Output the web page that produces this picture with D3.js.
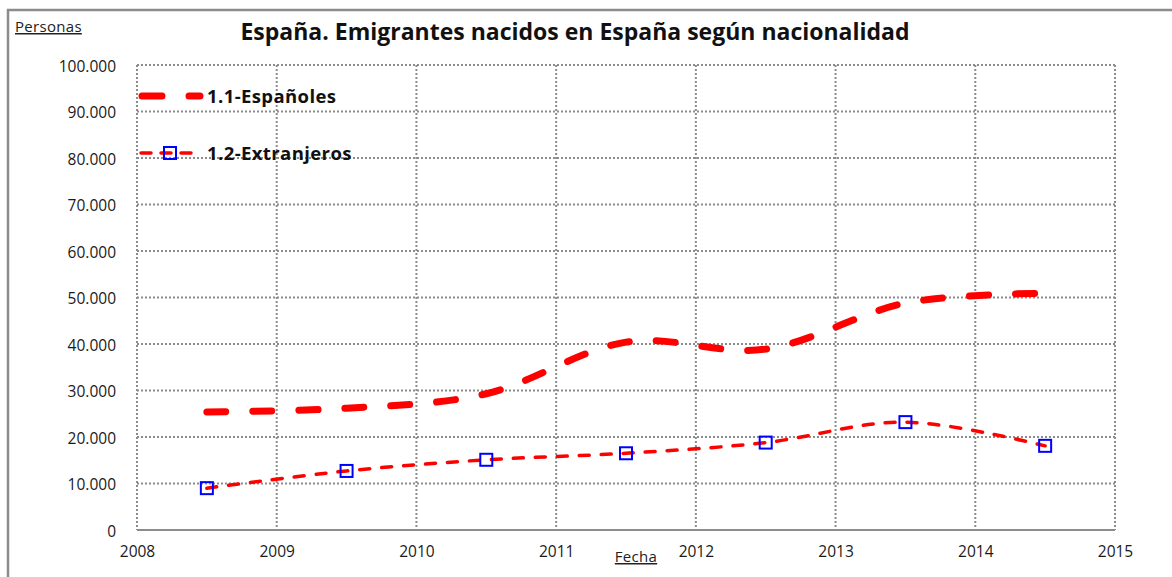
<!DOCTYPE html>
<html>
<head>
<meta charset="utf-8">
<script src="https://cdn.jsdelivr.net/npm/d3@7"></script>
<style>
  body { margin: 0; background: #fff; }
  svg { display: block; font-family: 'Open Sans', sans-serif; }
</style>
</head>
<body>
<div id="chart"></div>
<script>
// Data (mid-year points)
const periods = [2008.5, 2009.5, 2010.5, 2011.5, 2012.5, 2013.5, 2014.5];
const espanoles = [25400, 26200, 29300, 40400, 38900, 48800, 50900];
const extranjeros = [9000, 12700, 15100, 16500, 18800, 23200, 18100];
const yearTicks = [2008, 2009, 2010, 2011, 2012, 2013, 2014, 2015];
const valueTicks = [0, 10000, 20000, 30000, 40000, 50000, 60000, 70000, 80000, 90000, 100000];
const seriesNames = ['1.1-Españoles', '1.2-Extranjeros'];

const width = 1172;
const height = 577;
const plot = { left: 137, right: 1115, top: 65, bottom: 530 };
const font = "'Open Sans', sans-serif";

const svg = d3.select('#chart')
  .append('svg')
  .attr('width', width)
  .attr('height', height);

// outer frame (cut off at right and bottom like the reference)
svg.append('rect')
  .attr('x', 8).attr('y', 10)
  .attr('width', 1200).attr('height', 600)
  .style('fill', 'none')
  .style('stroke', '#8c8c8c')
  .style('stroke-width', 2.5);

const x = d3.scaleLinear().domain([2008, 2015]).range([plot.left, plot.right]);
const y = d3.scaleLinear().domain([0, 100000]).range([plot.bottom, plot.top]);

const locale = d3.formatLocale({ decimal: ',', thousands: '.', grouping: [3], currency: ['', '€'] });
const fmt = locale.format(',d');

// grid
const grid = svg.append('g').attr('class', 'grid');
grid.selectAll('line.h')
  .data(valueTicks.filter(v => v > 0))
  .enter().append('line')
  .attr('class', 'h')
  .attr('x1', plot.left).attr('x2', plot.right)
  .attr('y1', d => y(d)).attr('y2', d => y(d));
grid.selectAll('line.v')
  .data(yearTicks)
  .enter().append('line')
  .attr('class', 'v')
  .attr('x1', d => x(d)).attr('x2', d => x(d))
  .attr('y1', plot.top).attr('y2', plot.bottom);
grid.selectAll('line')
  .style('stroke', '#8c8c8c')
  .style('stroke-width', 2)
  .style('stroke-dasharray', '2,2');

// bottom axis line
svg.append('line')
  .attr('x1', plot.left).attr('x2', plot.right)
  .attr('y1', plot.bottom).attr('y2', plot.bottom)
  .style('stroke', '#8c8c8c')
  .style('stroke-width', 2);

// Y axis
const yAxis = d3.axisLeft(y).tickValues(valueTicks).tickFormat(fmt).tickSize(0).tickPadding(21);
svg.append('g')
  .attr('class', 'y axis')
  .attr('transform', `translate(${plot.left},1.5)`)
  .call(yAxis)
  .call(g => g.select('.domain').remove())
  .selectAll('text')
  .style('font-family', font)
  .style('font-size', '15.5px')
  .style('fill', '#1a1a1a');

// X axis
const xAxis = d3.axisBottom(x).tickValues(yearTicks).tickFormat(d3.format('d')).tickSize(0).tickPadding(16);
svg.append('g')
  .attr('class', 'x axis')
  .attr('transform', `translate(0,${plot.bottom})`)
  .call(xAxis)
  .call(g => g.select('.domain').remove())
  .selectAll('text')
  .style('font-family', font)
  .style('font-size', '15.5px')
  .style('fill', '#1a1a1a');

// Lines
const line = d3.line()
  .x((d, i) => x(periods[i]))
  .y(d => y(d))
  .curve(d3.curveCardinal.tension(0));

svg.append('path')
  .attr('d', line(espanoles))
  .style('fill', 'none')
  .style('stroke', '#ff0000')
  .style('stroke-width', 7)
  .style('stroke-linecap', 'round')
  .style('stroke-dasharray', '19,27');

svg.append('path')
  .attr('d', line(extranjeros))
  .style('fill', 'none')
  .style('stroke', '#ff0000')
  .style('stroke-width', 3.5)
  .style('stroke-linecap', 'round')
  .style('stroke-dasharray', '10,12');

// markers
svg.selectAll('rect.marker')
  .data(extranjeros)
  .enter().append('rect')
  .attr('class', 'marker')
  .attr('x', (d, i) => x(periods[i]) - 6)
  .attr('y', d => y(d) - 6)
  .attr('width', 12).attr('height', 12)
  .style('fill', 'none')
  .style('stroke', '#0000ff')
  .style('stroke-width', 2);

// Legend
const legend = svg.append('g').attr('class', 'legend');
legend.append('line')
  .attr('x1', 142).attr('x2', 200).attr('y1', 96).attr('y2', 96)
  .style('stroke', '#ff0000').style('stroke-width', 7)
  .style('stroke-linecap', 'round').style('stroke-dasharray', '20,27');
legend.append('line')
  .attr('x1', 141).attr('x2', 201).attr('y1', 153).attr('y2', 153)
  .style('stroke', '#ff0000').style('stroke-width', 3.5)
  .style('stroke-linecap', 'round').style('stroke-dasharray', '10,10,10,10,10');
legend.append('rect')
  .attr('x', 164).attr('y', 147).attr('width', 12).attr('height', 12)
  .style('fill', 'none').style('stroke', '#0000ff').style('stroke-width', 2);
legend.selectAll('text')
  .data(seriesNames)
  .enter().append('text')
  .attr('x', 207)
  .attr('y', (d, i) => i === 0 ? 103 : 160)
  .style('font-family', font)
  .style('font-weight', 'bold')
  .style('font-size', '18.5px')
  .style('letter-spacing', '0.4px')
  .style('fill', '#111')
  .text(d => d);

// Title & axis names
svg.append('text')
  .attr('x', 575).attr('y', 40)
  .attr('text-anchor', 'middle')
  .style('font-family', font)
  .style('font-weight', 'bold')
  .style('font-size', '23px')
  .style('fill', '#111')
  .text('España. Emigrantes nacidos en España según nacionalidad');

svg.append('text')
  .attr('x', 15).attr('y', 32)
  .style('font-family', font)
  .style('font-size', '15px')
  .style('letter-spacing', '0.3px')
  .style('text-decoration', 'underline')
  .style('fill', '#222')
  .text('Personas');

svg.append('text')
  .attr('x', 636).attr('y', 562)
  .attr('text-anchor', 'middle')
  .style('font-family', font)
  .style('font-size', '15px')
  .style('letter-spacing', '0.3px')
  .style('text-decoration', 'underline')
  .style('fill', '#222')
  .text('Fecha');
</script>
</body>
</html>
